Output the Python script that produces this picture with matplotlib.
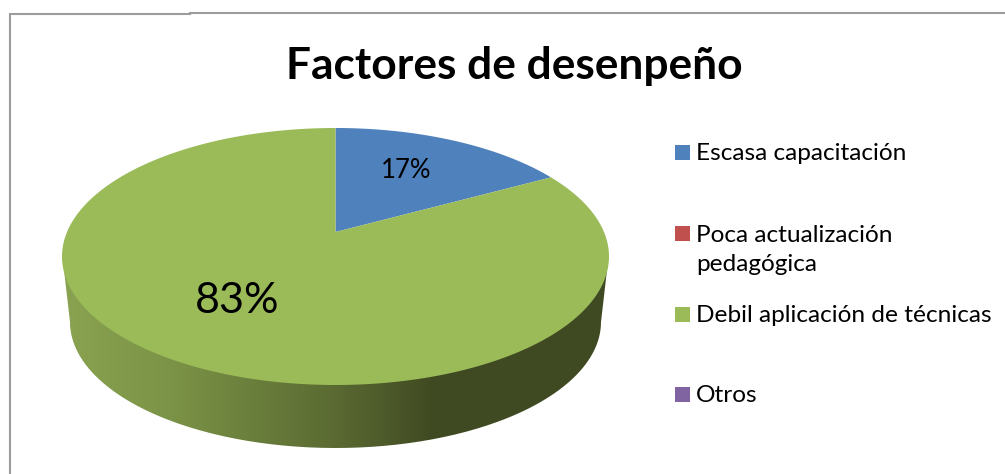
import numpy as np
import matplotlib
matplotlib.use("Agg")
import matplotlib.pyplot as plt
from matplotlib.colors import LinearSegmentedColormap
from matplotlib.patches import Rectangle, PathPatch
from matplotlib.path import Path
from matplotlib.transforms import Transform

# ---- data ----
title = "Factores de desenpeño"
categories = ["Escasa capacitación", "Poca actualización\npedagógica",
              "Debil aplicación de técnicas", "Otros"]
values = [17, 0, 83, 0]
colors = ["#4f81bd", "#c0504d", "#9bbb59", "#8064a2"]

plt.rcParams["font.family"] = ["Lato", "DejaVu Sans"]

# ---- layout (pixel space) ----
W, H = 1005, 474
CX, CY = 335.5, 232.0      # projected pie centre
UP, DOWN = 104.0, 153.0    # centre to rear and front rim
HALF_W = 273.5             # half width of the projected rim
K = (DOWN - UP) / (DOWN + UP)
P = UP * (1 + K)
A = HALF_W * np.sqrt(1 - K ** 2)


class DiscPerspective(Transform):
    """Projects the unit pie disc onto the tilted plane of the 3D chart."""
    input_dims = output_dims = 2

    def transform_non_affine(self, xy):
        xy = np.asarray(xy, float)
        u, v = xy[:, 0], xy[:, 1]
        d = 1 + K * v
        return np.column_stack([CX + A * u / d, CY - P * v / d])

    def transform_path_non_affine(self, path):
        # Flatten the arcs first: a projective map does not keep Bezier curves.
        flat = path.transformed(matplotlib.transforms.Affine2D().scale(2000))
        polys = flat.to_polygons(closed_only=True)
        verts = np.vstack(polys) / 2000 if len(polys) else path.vertices
        return Path(self.transform_non_affine(verts))


fig = plt.figure(figsize=(W / 100, H / 100), dpi=100, facecolor="white")
ax = fig.add_axes([0, 0, 1, 1])

wedges, _, autotexts = ax.pie(
    values, colors=colors, startangle=90, counterclock=False,
    autopct=lambda p: f"{p:.0f}%" if p > 0 else "",
    wedgeprops={"linewidth": 0, "zorder": 3},
)
ax.set_aspect("auto")
persp = DiscPerspective()
for w, v in zip(wedges, values):
    w.set_transform(persp + ax.transData)
    w.set_visible(v > 0)

# rim of the 3D pie: gradient clipped to the side outline
t = np.linspace(np.pi, 2 * np.pi, 200)
RIM_CY, RIM_AX, RIM_AY = 322.0, 265.5, 126.0
side = np.vstack([
    [[CX - HALF_W + 0.5, 257.0]],
    np.column_stack([CX + RIM_AX * np.cos(t), RIM_CY - RIM_AY * np.sin(t)]),
    [[CX + HALF_W - 0.5, 257.0]],
])
side_patch = PathPatch(Path(side), fc="none", ec="none", transform=ax.transData)
ax.add_patch(side_patch)
cmap = LinearSegmentedColormap.from_list(
    "rim", [(0.0, "#8aa351"), (0.2, "#7b9346"), (0.5, "#5a6a32"),
            (0.68, "#404a22"), (1.0, "#404a22")])
img = ax.imshow(np.linspace(0, 1, 512)[None, :], cmap=cmap, aspect="auto",
                extent=(CX - HALF_W, CX + HALF_W, 460, 240), zorder=1,
                interpolation="bilinear")
img.set_clip_path(side_patch)

# percent labels
label_pos = {0: (406.5, 171, 18.5), 2: (237.5, 301, 31)}
for i, (x, y, fs) in label_pos.items():
    autotexts[i].set_position((x, y))
    autotexts[i].set_transform(ax.transData)
    autotexts[i].set_fontsize(fs)
    autotexts[i].set_color("black")
    autotexts[i].set_ha("center")
    autotexts[i].set_va("center")

# legend
rows_y = [152, 233, 314, 394]
for label, colour, y in zip(categories, colors, rows_y):
    ax.add_patch(Rectangle((675, y - 7.5), 15, 15, fc=colour, ec="none", zorder=3))
    ax.text(696, y - 8.5, label, fontsize=17.6, color="black", va="top", ha="left",
            linespacing=1.48)

# title
ax.text(514.5, 66, title, fontsize=31.9, fontweight="bold", color="black",
        ha="center", va="center")

# chart frame
frame = "#9c9c9c"
ax.plot([9.5, 9.5, 190], [474, 13.5, 13.5], color=frame, lw=1.5, solid_joinstyle="miter", zorder=2)
ax.plot([190, 1005], [12.5, 12.5], color=frame, lw=1.5, zorder=2)

ax.set_xlim(0, W)
ax.set_ylim(H, 0)
ax.axis("off")
fig.savefig("out.png", dpi=100, facecolor="white")
